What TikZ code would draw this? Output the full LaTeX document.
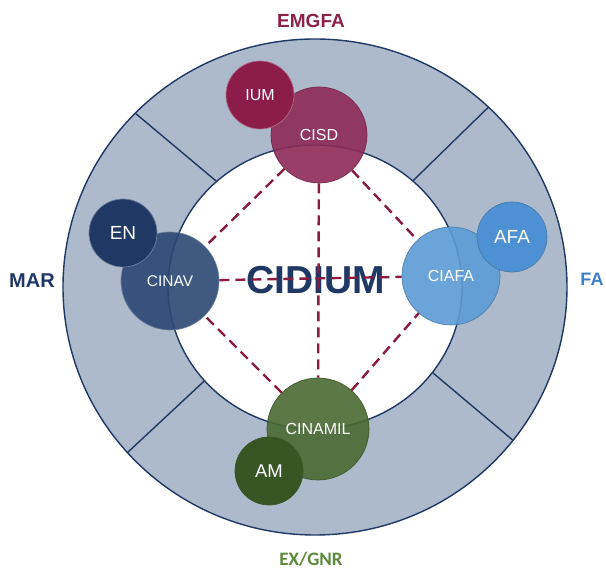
\documentclass[tikz,border=0pt]{standalone}
\usepackage{fontspec}
\setmainfont{Liberation Sans}
\newfontfamily\calibrifont{Carlito}
\usetikzlibrary{positioning, calc}

\definecolor{ringfill}{HTML}{ADBACB}
\definecolor{navy}{HTML}{1F3864}
\definecolor{maroon}{HTML}{8C2249}
\definecolor{iumcol}{HTML}{8C1D4B}
\definecolor{cisdcol}{HTML}{8E2A57}
\definecolor{encol}{HTML}{1F3864}
\definecolor{cinavcol}{HTML}{2B4774}
\definecolor{afacol}{HTML}{4D90D3}
\definecolor{ciafacol}{HTML}{5B9BD5}
\definecolor{cinamilcol}{HTML}{4A6A32}
\definecolor{amcol}{HTML}{375623}
\definecolor{facol}{HTML}{3F7FC8}
\definecolor{excol}{HTML}{5B8A3A}
\definecolor{linkcol}{HTML}{8B1A40}

\begin{document}
\begin{tikzpicture}[x=1pt, y=1pt,
        unit/.style={circle, inner sep=0pt, minimum size=#1, text=white, line width=0.7pt, fill opacity=0.9, draw opacity=0.9, text opacity=1},
        school/.style={unit=#1, fill opacity=1, draw opacity=1},
        link/.style={draw=linkcol, line width=2.4pt, dash pattern=on 10pt off 6pt}]
    \useasboundingbox (-315,-282) rectangle (291,287);

    % Ring
    \tikzstyle{border} = [draw=navy, line width=1.4pt]
    \draw[border, fill=ringfill] (0,0) ellipse (252pt and 248pt);
    \draw[border, fill=white] (0,0) ellipse (147pt and 142pt);

    % Sectors
    \draw[border] (132:147pt and 142pt) -- (135.5:252pt and 248pt);
    \draw[border] (48.3:147pt and 142pt) -- (46.5:252pt and 248pt);
    \draw[border] (221.3:147pt and 142pt) -- (221.9:252pt and 248pt);
    \draw[border] (323:147pt and 142pt) -- (321.8:252pt and 248pt);

    % Centre
    \node[text=navy, font=\bfseries\fontsize{39}{39}\selectfont, inner sep=0pt] (cidium) at (1,7) {CIDIUM};

    % Research centres
    \node[unit=96pt, fill=cisdcol, draw=cisdcol!80!black, font=\fontsize{16}{16}\selectfont] (cisd) at (4,152) {CISD};
    \node[unit=98pt, fill=cinavcol, draw=cinavcol!70!white, font=\fontsize{15.5}{15.5}\selectfont] (cinav) at (-145,6) {CINAV};
    \node[unit=98pt, fill=ciafacol, draw=ciafacol!80!black, font=\fontsize{16}{16}\selectfont] (ciafa) at (136,11) {CIAFA};
    \node[unit=102pt, fill=cinamilcol, draw=cinamilcol!80!black, font=\fontsize{16}{16}\selectfont] (cinamil) at (3,-142) {CINAMIL};

    % Schools
    \node[school=68pt, fill=iumcol, draw=cisdcol!70!white, font=\fontsize{16}{16}\selectfont] (ium) at (-55,192) {IUM};
    \node[school=68pt, fill=encol, draw=cinavcol!70!white, font=\fontsize{19}{19}\selectfont] (en) at (-192,54) {EN};
    \node[school=70pt, fill=afacol, draw=ciafacol!80!black, font=\fontsize{19}{19}\selectfont] (afa) at (197,50) {AFA};
    \node[school=68pt, fill=amcol, draw=cinamilcol!80!black, font=\fontsize{18.5}{18.5}\selectfont] (am) at (-46,-184) {AM};

    % Links
    \draw[link] (cisd) -- (cinav);
    \draw[link] (cisd) -- (ciafa);
    \draw[link] (cinamil) -- (cinav);
    \draw[link] (cinamil) -- (ciafa);
    \draw[link] (cinav) -- (ciafa);
    \draw[link] (cisd) -- (cinamil);

    % Branches
    \node[text=maroon, font=\bfseries\fontsize{19}{19}\selectfont] (emgfa) at (-4,266) {EMGFA};
    \node[text=navy, font=\bfseries\fontsize{20}{20}\selectfont] (mar) at (-283,6) {MAR};
    \node[text=facol, font=\bfseries\fontsize{18}{18}\selectfont] (fa) at (277,8) {FA};
    \node[text=excol, font=\calibrifont\bfseries\fontsize{19}{19}\selectfont] (exgnr) at (-4,-272) {EX/GNR};
\end{tikzpicture}
\end{document}
